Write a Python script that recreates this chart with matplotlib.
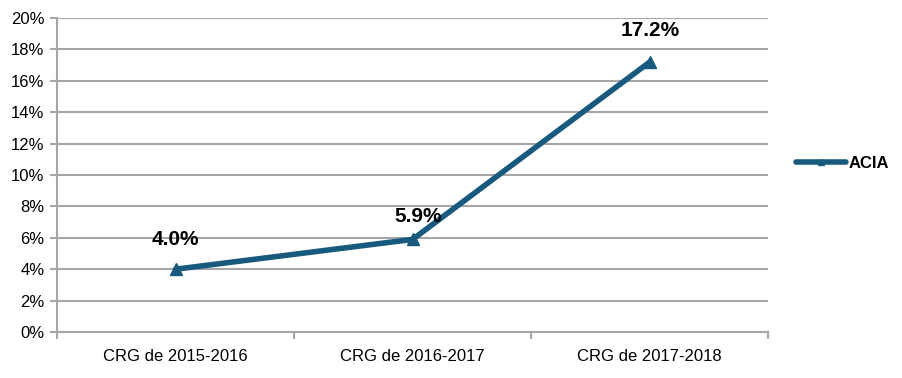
import matplotlib
matplotlib.use("Agg")
import matplotlib.pyplot as plt
from matplotlib.ticker import FixedLocator, FuncFormatter

plt.rcParams['font.family'] = ['Liberation Sans', 'DejaVu Sans']

categories = ["CRG de 2015-2016", "CRG de 2016-2017", "CRG de 2017-2018"]
acia = [4.0, 5.9, 17.2]
labels = ["4.0%", "5.9%", "17.2%"]
series_name = "ACIA"

color = "#185A7D"
grid_c = "#A6A6A6"

fig = plt.figure(figsize=(9.02, 3.78), dpi=100)
ax = fig.add_axes([0.0632, 0.1217, 0.7885, 0.8305])
x = list(range(len(categories)))
ax.plot(x, acia, color=color, lw=4, marker="^", ms=8, label=series_name, solid_capstyle="round")
ax.set_xlim(-0.5, len(categories) - 0.5)
ax.set_ylim(0, 20)
ax.yaxis.set_major_locator(FixedLocator(range(0, 21, 2)))
ax.yaxis.set_major_formatter(FuncFormatter(lambda v, p: f"{int(v)}%"))
ax.grid(axis="y", color=grid_c, lw=1.5)
ax.set_axisbelow(True)
ax.set_xticks(x)
ax.set_xticklabels(categories)
ax.set_xticks([i - 0.5 for i in range(len(categories) + 1)], minor=True)
ax.tick_params(axis="x", which="major", length=0, pad=12, labelsize=12)
ax.tick_params(axis="x", which="minor", length=5, color=grid_c, width=1.5)
ax.tick_params(axis="y", length=5, color=grid_c, width=1.5, labelsize=12, pad=4)
for s in ["top", "right"]:
    ax.spines[s].set_visible(False)
for s in ["left", "bottom"]:
    ax.spines[s].set_color(grid_c)
    ax.spines[s].set_linewidth(1.5)

offs = [(0, 21.5), (4, 16.5), (0, 22.5)]
for xi, yi, lab, o in zip(x, acia, labels, offs):
    ax.annotate(lab, (xi, yi), xytext=o, textcoords="offset points",
                ha="center", va="center", fontsize=15, fontweight="bold", color="black")

leg = fig.legend(loc="center left", bbox_to_anchor=(0.866, 0.568), frameon=False,
                 fontsize=12, handlelength=3.0, handletextpad=0.15, markerscale=0.6)
for t in leg.get_texts():
    t.set_fontweight("bold")

fig.savefig("out.png", dpi=100)
